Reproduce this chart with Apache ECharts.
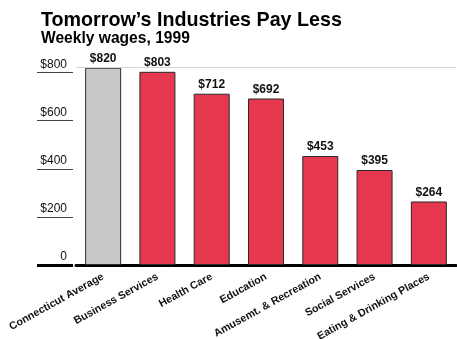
<!DOCTYPE html>
<html>
<head>
<meta charset="utf-8">
<script src="https://cdn.jsdelivr.net/npm/echarts@6/dist/echarts.min.js"></script>
<style>html,body{margin:0;padding:0;background:#fff}#c{width:457px;height:339px}</style>
</head>
<body>
<div id="c"></div>
<script>
var categories = ['Connecticut Average','Business Services','Health Care','Education','Amusemt. & Recreation','Social Services','Eating & Drinking Places'];
var wages = [820, 803, 712, 692, 453, 395, 264];
var yTicks = [0, 200, 400, 600, 800];
var yTickLabels = ['0', '$200', '$400', '$600', '$800'];
var topLineValue = 823;

var FONT = '"Liberation Sans", Arial, Helvetica, sans-serif';
var chart = echarts.init(document.getElementById('c'));
chart.setOption({
  animation: false,
  title: {
    text: 'Tomorrow\u2019s Industries Pay Less',
    subtext: 'Weekly wages, 1999',
    left: 36, top: 6, itemGap: 0,
    textStyle: {fontFamily: FONT, fontWeight: 'bold', fontSize: 19.7, color: '#000'},
    subtextStyle: {fontFamily: FONT, fontWeight: 'bold', fontSize: 15.6, color: '#000'}
  },
  grid: {left: 76, right: 1, top: 67, bottom: 74, containLabel: false, outerBoundsMode: 'none'},
  xAxis: {
    type: 'category', data: categories,
    axisLine: {lineStyle: {color: '#000', width: 3}},
    axisTick: {show: false},
    axisLabel: {interval: 0, rotate: 29, margin: 11, fontFamily: FONT, fontWeight: 'bold', fontSize: 10.7, color: '#111'}
  },
  yAxis: [{
    type: 'value', min: 0, max: topLineValue, position: 'left', offset: 3,
    axisLine: {show: false},
    splitLine: {show: false},
    axisTick: {show: true, length: 36, customValues: yTicks.slice(1), lineStyle: {color: '#444', width: 1}},
    axisLabel: {
      customValues: yTicks, margin: 6, verticalAlign: 'bottom', padding: [0,0,2,0],
      fontFamily: FONT, fontSize: 12, color: '#111',
      formatter: function (v) { var i = yTicks.indexOf(v); return i >= 0 ? yTickLabels[i] : ''; }
    }
  }, {
    type: 'value', min: 0, max: topLineValue, position: 'left', offset: 3,
    axisLine: {show: false}, splitLine: {show: false},
    axisTick: {show: true, length: 36, customValues: [0], lineStyle: {color: '#000', width: 3}},
    axisLabel: {show: false}
  }],
  series: [{
    type: 'bar', yAxisIndex: 0, barWidth: 36,
    data: wages.map(function (v, i) {
      return {value: v, itemStyle: {color: i === 0 ? '#c9c9cb' : '#e5384f'}};
    }),
    itemStyle: {borderColor: '#2a2a2a', borderWidth: 1},
    label: {show: true, position: 'top', distance: 3, fontFamily: FONT, fontWeight: 'bold', fontSize: 12, color: '#111',
      formatter: function (p) { return '$' + p.value; }},
    markLine: {
      silent: true, symbol: 'none', label: {show: false},
      lineStyle: {color: '#d4d4d4', width: 1, type: 'solid'},
      data: [{yAxis: topLineValue}]
    }
  }]
});
</script>
</body>
</html>
